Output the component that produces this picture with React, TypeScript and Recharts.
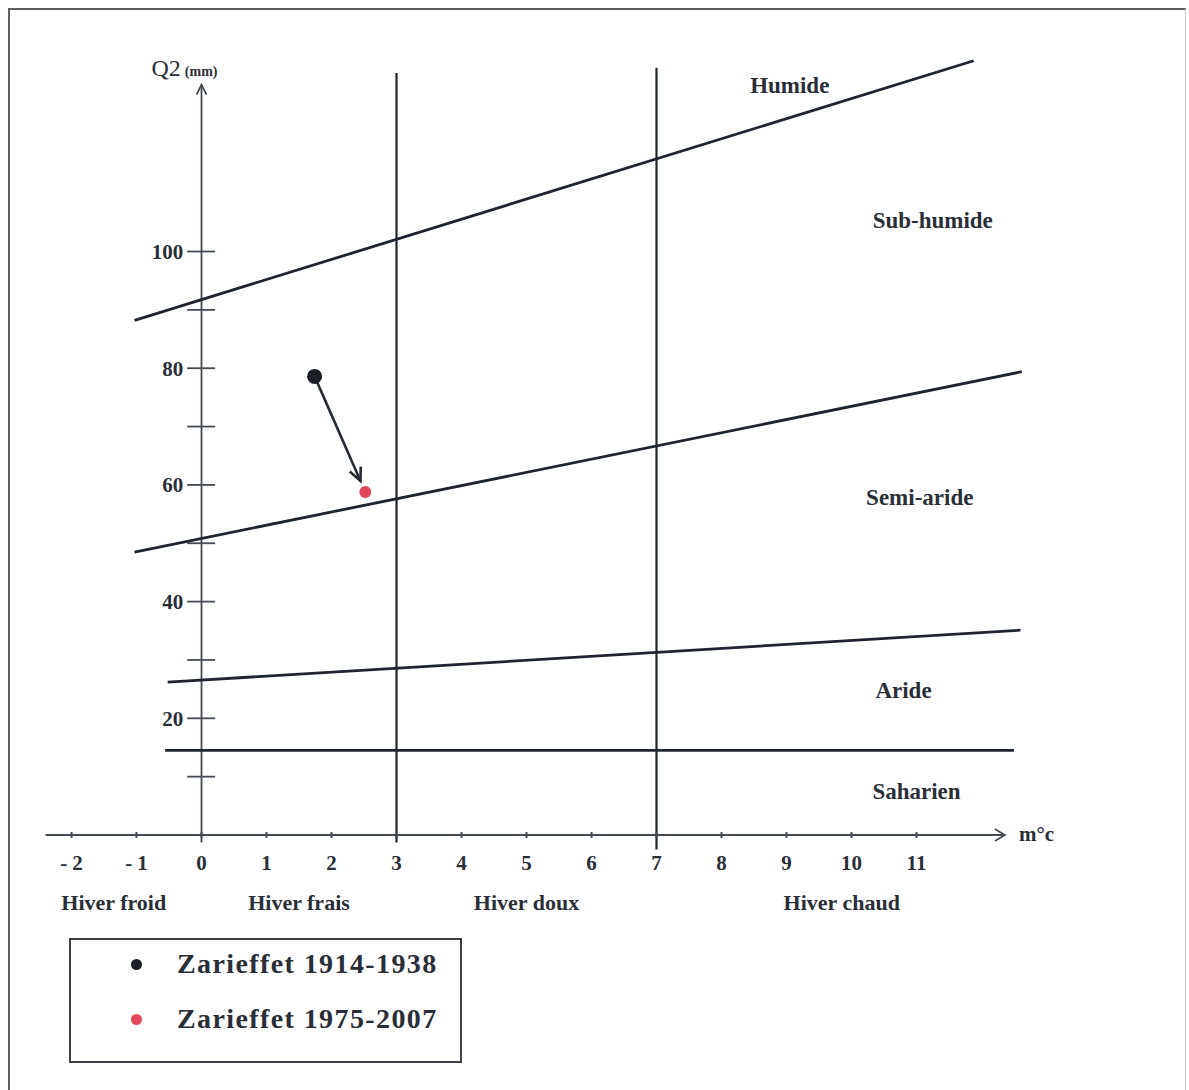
import React from "react";
import {
  ComposedChart,
  Line,
  Scatter,
  XAxis,
  YAxis,
  ReferenceLine,
  ReferenceDot,
  Legend,
} from "recharts";

// axis ticks
const xTicks = [-2, -1, 0, 1, 2, 3, 4, 5, 6, 7, 8, 9, 10, 11];
const yTicks = [10, 20, 30, 40, 50, 60, 70, 80, 90, 100];
const yLabelled = [20, 40, 60, 80, 100];

// winter types (m in °C)
const winters = ["Hiver froid", "Hiver frais", "Hiver doux", "Hiver chaud"];
const winterCentres = [-1.35, 1.5, 5, 9.85];
const winterLimits = [3, 7];
const winterLimitTops = [130.6, 131.5];
const winterLimitBottoms = [-1.3, -2.5];

// bioclimatic stages
const zoneNames = ["Humide", "Sub-humide", "Semi-aride", "Aride", "Saharien"];
const zoneLabelM = [9.05, 11.25, 11.05, 10.8, 11.0];
const zoneLabelQ = [128.5, 105.4, 57.9, 24.8, 7.5];

// stage limits (m, Q2)
const humideLimit = [
  { m: -1.03, q: 88.2 },
  { m: 11.88, q: 132.7 },
];
const semiAridLimit = [
  { m: -1.03, q: 48.5 },
  { m: 12.62, q: 79.4 },
];
const aridLimit = [
  { m: -0.52, q: 26.2 },
  { m: 12.6, q: 35.1 },
];
const saharanLimit = [
  { m: -0.56, q: 14.5 },
  { m: 12.5, q: 14.5 },
];

// stations
const station1914 = [{ m: 1.74, q: 78.6 }];
const station1975 = [{ m: 2.52, q: 58.8 }];

const ink = "#1e2530";
const axisInk = "#454b54";
const textInk = "#2a2f37";
const serif = '"Liberation Serif", "Times New Roman", serif';

const arrowShape =
  (color: string, width: number, head: number, half: number, trim: number) =>
  (props: any) => {
    const { x1, y1, x2, y2 } = props;
    const dx = x2 - x1;
    const dy = y2 - y1;
    const len = Math.hypot(dx, dy) || 1;
    const ux = dx / len;
    const uy = dy / len;
    const tx = x2 - ux * trim;
    const ty = y2 - uy * trim;
    const bx = tx - ux * head;
    const by = ty - uy * head;
    const px = -uy * half;
    const py = ux * half;
    return (
      <g>
        <line x1={x1} y1={y1} x2={tx} y2={ty} stroke={color} strokeWidth={width} />
        <polyline
          points={`${bx + px},${by + py} ${tx},${ty} ${bx - px},${by - py}`}
          fill="none"
          stroke={color}
          strokeWidth={width}
        />
      </g>
    );
  };

const yAxisShape = (props: any) => {
  const { x2, y2 } = props;
  return (
    <g>
      {arrowShape(axisInk, 1.8, 10, 5, 0)(props)}
      <text x={x2 - 50} y={y2 - 9} fill={textInk} fontFamily={serif}>
        <tspan fontSize={24}>Q2</tspan>
        <tspan fontSize={14} fontWeight={700} dx={4}>
          (mm)
        </tspan>
      </text>
    </g>
  );
};

const xAxisShape = (props: any) => {
  const { x2, y2 } = props;
  return (
    <g>
      {arrowShape(axisInk, 1.8, 10, 6, 0)(props)}
      <text x={x2 + 14} y={y2 + 6} fill={textInk} fontFamily={serif} fontSize={21} fontWeight={700}>
        m°c
      </text>
    </g>
  );
};

const NumTick = ({ x, y, payload }: any) => {
  const v = payload.value as number;
  const label = v < 0 ? `- ${Math.abs(v)}` : String(v);
  return (
    <g>
      <line x1={x} x2={x} y1={y - 3} y2={y + 3} stroke={axisInk} strokeWidth={2} />
      <text
        x={x}
        y={y + 35}
        textAnchor="middle"
        fill={textInk}
        fontFamily={serif}
        fontSize={21}
        fontWeight={700}
      >
        {label}
      </text>
    </g>
  );
};

const WinterTick = ({ x, y, payload }: any) => (
  <text
    x={x}
    y={y + 30}
    textAnchor="middle"
    fill={textInk}
    fontFamily={serif}
    fontSize={22}
    fontWeight={700}
  >
    {winters[winterCentres.indexOf(payload.value)]}
  </text>
);

const LegendBox = ({ payload }: any) => {
  const items = (payload || []).filter((p: any) => p.type !== "none");
  const rowY = [25, 80];
  return (
    <div
      style={{
        position: "relative",
        width: 393,
        height: 125,
        border: "2px solid #3c4048",
        boxSizing: "border-box",
        background: "#fff",
      }}
    >
      {items.map((it: any, i: number) => (
        <div key={it.value}>
          <span
            style={{
              position: "absolute",
              left: 60,
              top: rowY[i] - 6,
              width: 11,
              height: 11,
              borderRadius: "50%",
              background: it.color,
            }}
          />
          <span
            style={{
              position: "absolute",
              left: 106,
              top: rowY[i] - 17,
              fontFamily: serif,
              fontSize: 28,
              fontWeight: 700,
              lineHeight: "32px",
              color: textInk,
              whiteSpace: "nowrap",
              letterSpacing: 1.4,
            }}
          >
            {it.value}
          </span>
        </div>
      ))}
    </div>
  );
};

const dotShape = (r: number, color: string) => (props: any) =>
  <circle cx={props.cx} cy={props.cy} r={r} fill={color} />;

const App: React.FC = () => {
  return (
    <div
      style={{
        position: "absolute",
        left: 0,
        top: 0,
        width: 1189,
        height: 1090,
        background: "#fff",
      }}
    >
      <div
        style={{
          position: "absolute",
          left: 8,
          top: 8,
          width: 1178,
          height: 1082,
          borderLeft: "2px solid #5a5e64",
          borderTop: "2px solid #5a5e64",
          borderRight: "1px solid #c8cacc",
          boxSizing: "border-box",
        }}
      />
      <ComposedChart
        width={1189}
        height={1090}
        margin={{ top: 47.3, right: 162, bottom: 170, left: 45.5 }}
      >
        <XAxis
          dataKey="m"
          type="number"
          domain={[-2.4, 12.7]}
          ticks={xTicks}
          interval={0}
          axisLine={false}
          tickLine={false}
          tickSize={0}
          tickMargin={0}
          height={45}
          tick={<NumTick />}
        />
        <XAxis
          xAxisId="zone"
          dataKey="m"
          type="number"
          domain={[-2.4, 12.7]}
          allowDataOverflow
          ticks={winterCentres}
          interval={0}
          axisLine={false}
          tickLine={false}
          tickSize={0}
          tickMargin={0}
          height={40}
          tick={<WinterTick />}
        />
        <YAxis dataKey="q" type="number" domain={[0, 135]} hide />

        {/* axes */}
        <ReferenceLine
          segment={[
            { x: -2.4, y: 0 },
            { x: 12.36, y: 0 },
          ]}
          ifOverflow="visible"
          shape={xAxisShape}
        />
        <ReferenceLine
          segment={[
            { x: 0, y: -1.3 },
            { x: 0, y: 128.6 },
          ]}
          ifOverflow="visible"
          shape={yAxisShape}
        />
        {yTicks.map((v) => (
          <ReferenceLine
            key={`yt${v}`}
            segment={[
              { x: -0.22, y: v },
              { x: 0.21, y: v },
            ]}
            stroke={axisInk}
            strokeWidth={1.8}
            ifOverflow="visible"
            label={
              yLabelled.includes(v)
                ? {
                    value: String(v),
                    position: "left",
                    offset: 4,
                    fill: textInk,
                    fontSize: 21,
                    fontWeight: 700,
                    fontFamily: serif,
                  }
                : undefined
            }
          />
        ))}

        {/* winter limits */}
        {winterLimits.map((m, i) => (
          <ReferenceLine
            key={`wl${m}`}
            segment={[
              { x: m, y: winterLimitBottoms[i] },
              { x: m, y: winterLimitTops[i] },
            ]}
            stroke={ink}
            strokeWidth={2.2}
            ifOverflow="visible"
          />
        ))}

        {/* stage limits */}
        {[humideLimit, semiAridLimit, aridLimit, saharanLimit].map((d, i) => (
          <Line
            key={`lim${i}`}
            data={d}
            dataKey="q"
            type="linear"
            stroke={ink}
            strokeWidth={2.8}
            dot={false}
            activeDot={false}
            legendType="none"
            isAnimationActive={false}
          />
        ))}

        {zoneNames.map((name, i) => (
          <ReferenceDot
            key={name}
            x={zoneLabelM[i]}
            y={zoneLabelQ[i]}
            r={0}
            fill="none"
            stroke="none"
            label={{
              value: name,
              position: "center",
              fill: textInk,
              fontSize: 23,
              fontWeight: 700,
              fontFamily: serif,
            }}
          />
        ))}

        {/* shift between the two periods */}
        <ReferenceLine
          segment={[
            { x: station1914[0].m, y: station1914[0].q },
            { x: station1975[0].m, y: station1975[0].q },
          ]}
          ifOverflow="visible"
          shape={arrowShape("#262c36", 2.6, 13, 6, 12)}
        />

        <Scatter
          name="Zarieffet 1914-1938"
          data={station1914}
          dataKey="q"
          fill="#1b1f26"
          shape={dotShape(7.5, "#1b1f26")}
          isAnimationActive={false}
        />
        <Scatter
          name="Zarieffet 1975-2007"
          data={station1975}
          dataKey="q"
          fill="#e2475b"
          shape={dotShape(6, "#e2475b")}
          isAnimationActive={false}
        />

        <Legend
          layout="vertical"
          align="center"
          verticalAlign="middle"
          content={<LegendBox />}
          wrapperStyle={{
            left: 69,
            top: 938,
            right: "auto",
            bottom: "auto",
            width: 393,
            height: 125,
          }}
        />
      </ComposedChart>
    </div>
  );
};

export default App;
